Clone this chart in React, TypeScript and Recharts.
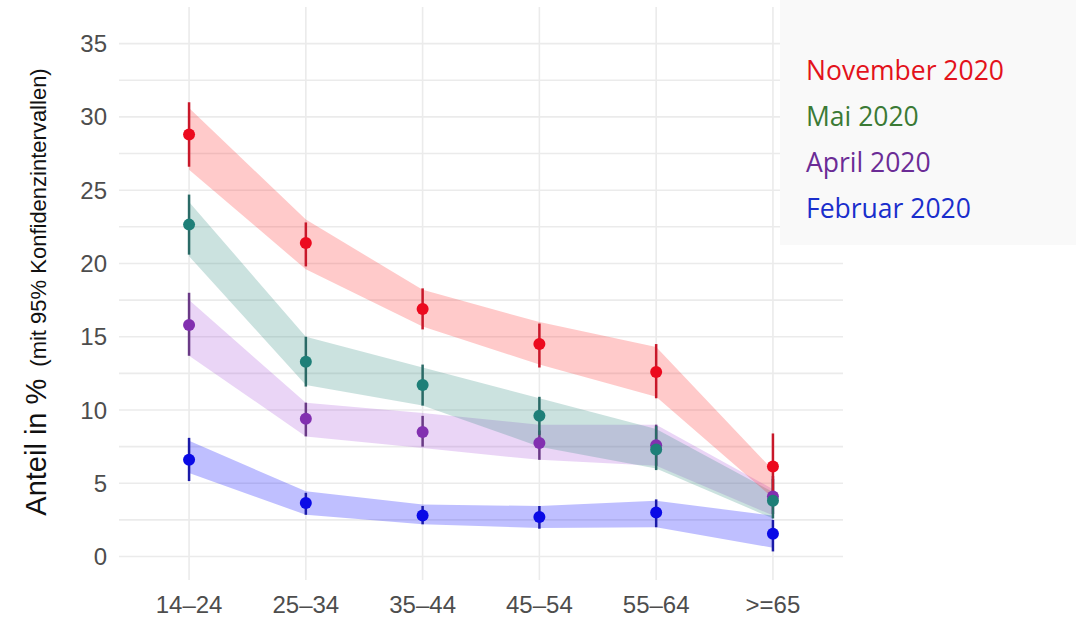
import React from "react";
import {
  ComposedChart,
  Area,
  Line,
  ErrorBar,
  XAxis,
  YAxis,
  CartesianGrid,
} from "recharts";

// age groups on the x axis
const AGE_GROUPS = ["14–24", "25–34", "35–44", "45–54", "55–64", ">=65"];
const X_POS = [1, 2, 3, 4, 5, 6];
const Y_TICKS = [0, 5, 10, 15, 20, 25, 30, 35];
const GRID_VALUES = [0, 2.5, 5, 7.5, 10, 12.5, 15, 17.5, 20, 22.5, 25, 27.5, 30, 32.5, 35];
const X_DOMAIN = [0.4, 6.6];

// November 2020
const NOV = [28.8, 21.4, 16.9, 14.5, 12.6, 6.15];
const NOV_LO = [26.6, 19.8, 15.5, 12.9, 10.8, 3.9];
const NOV_HI = [31.0, 22.8, 18.3, 15.9, 14.5, 8.4];
const NOV_BAND_LO = [26.4, 19.6, 15.7, 13.1, 10.9, 4.0];
const NOV_BAND_HI = [30.6, 23.0, 18.2, 16.0, 14.3, 5.9];

// Mai 2020
const MAI = [22.65, 13.3, 11.7, 9.6, 7.3, 3.8];
const MAI_LO = [20.6, 11.6, 10.3, 8.3, 5.9, 2.6];
const MAI_HI = [24.7, 15.0, 13.1, 10.9, 8.9, 5.3];
const MAI_BAND_LO = [20.5, 11.7, 10.3, 7.5, 6.0, 2.6];
const MAI_BAND_HI = [24.2, 15.0, 12.9, 10.8, 8.7, 4.4];

// April 2020
const APR = [15.8, 9.4, 8.5, 7.75, 7.6, 4.1];
const APR_LO = [13.7, 8.2, 7.5, 6.6, 6.2, 2.9];
const APR_HI = [18.0, 10.5, 9.6, 8.6, 9.0, 5.5];
const APR_BAND_LO = [13.7, 8.2, 7.4, 6.6, 6.2, 2.8];
const APR_BAND_HI = [17.5, 10.5, 9.8, 9.0, 9.0, 4.6];

// Februar 2020
const FEB = [6.6, 3.65, 2.8, 2.7, 3.0, 1.55];
const FEB_LO = [5.15, 2.85, 2.2, 1.9, 2.0, 0.35];
const FEB_HI = [8.1, 4.35, 3.45, 3.45, 3.9, 2.5];
const FEB_BAND_LO = [5.7, 2.85, 2.2, 1.95, 2.0, 0.6];
const FEB_BAND_HI = [7.9, 4.45, 3.55, 3.45, 3.8, 2.8];

const SERIES = [
  { key: "feb", label: "Februar 2020", val: FEB, lo: FEB_LO, hi: FEB_HI, bandLo: FEB_BAND_LO, bandHi: FEB_BAND_HI, color: "#0a0ae6", bar: "#1a1aa8", band: "#0000ff", bandOpacity: 0.25, text: "#1a2ecc" },
  { key: "apr", label: "April 2020", val: APR, lo: APR_LO, hi: APR_HI, bandLo: APR_BAND_LO, bandHi: APR_BAND_HI, color: "#8230b0", bar: "#6a3a86", band: "#a040d8", bandOpacity: 0.22, text: "#6b2c96" },
  { key: "mai", label: "Mai 2020", val: MAI, lo: MAI_LO, hi: MAI_HI, bandLo: MAI_BAND_LO, bandHi: MAI_BAND_HI, color: "#1e7f78", bar: "#2a6a66", band: "#2e8b80", bandOpacity: 0.25, text: "#3b7a35" },
  { key: "nov", label: "November 2020", val: NOV, lo: NOV_LO, hi: NOV_HI, bandLo: NOV_BAND_LO, bandHi: NOV_BAND_HI, color: "#ec0a1e", bar: "#c8182a", band: "#ff2020", bandOpacity: 0.24, text: "#e3121b" },
];

const data = AGE_GROUPS.map((cat, i) => {
  const row: Record<string, any> = { x: X_POS[i], cat };
  SERIES.forEach((s) => {
    row[s.key] = s.val[i];
    row[s.key + "Err"] = [s.val[i] - s.lo[i], s.hi[i] - s.val[i]];
    row[s.key + "Band"] = [s.bandLo[i], s.bandHi[i]];
  });
  return row;
});

const FONT = "'Liberation Sans', Arial, Helvetica, sans-serif";

function YTitle() {
  return (
    <text
      x={46}
      y={292}
      transform="rotate(-90, 46, 292)"
      textAnchor="middle"
      fontFamily={FONT}
      fill="#111"
    >
      <tspan fontSize={29}>Anteil in %</tspan>
      <tspan fontSize={22} dx={12}>(mit 95% Konfidenzintervallen)</tspan>
    </text>
  );
}

// vertical grid only at the age groups, not at the plot edges
function verticalLines(props: any) {
  const scale = props?.xAxis?.scale;
  if (scale && typeof scale === "function") {
    return X_POS.map((v) => scale(v));
  }
  const off = props.offset;
  const [d0, d1] = X_DOMAIN;
  return X_POS.map((v) => off.left + ((v - d0) / (d1 - d0)) * off.width);
}

export default function App() {
  const legendOrder = [...SERIES].reverse();
  return (
    <div style={{ position: "relative", width: 1079, height: 619, background: "#fff" }}>
      <style>{`body{margin:0}`}</style>
      <ComposedChart
        width={1079}
        height={619}
        data={data}
        margin={{ top: 7, right: 236, bottom: 0, left: 0 }}
      >
        <CartesianGrid
          stroke="#ebebeb"
          strokeWidth={1.6}
          horizontalValues={GRID_VALUES}
          verticalCoordinatesGenerator={verticalLines}
        />
        <XAxis
          type="number"
          dataKey="x"
          domain={X_DOMAIN}
          ticks={X_POS}
          tickFormatter={(v: number) => AGE_GROUPS[v - 1]}
          axisLine={false}
          tickLine={false}
          tickSize={0}
          tickMargin={16}
          height={39}
          allowDataOverflow
          tick={{ fontSize: 24, fill: "#4d4d4d", fontFamily: FONT }}
        />
        <YAxis
          type="number"
          domain={[-1.6, 37.5]}
          ticks={Y_TICKS}
          axisLine={false}
          tickLine={false}
          tickSize={0}
          tickMargin={12}
          width={119}
          allowDataOverflow
          tick={{ fontSize: 24, fill: "#4d4d4d", fontFamily: FONT }}
          label={{ content: () => <YTitle /> }}
        />
        {SERIES.map((s) => (
          <Area
            key={s.key + "Band"}
            type="linear"
            dataKey={s.key + "Band"}
            stroke="none"
            fill={s.band}
            fillOpacity={s.bandOpacity}
            dot={false}
            activeDot={false}
            isAnimationActive={false}
          />
        ))}
        {SERIES.map((s) => (
          <Line
            key={s.key}
            type="linear"
            dataKey={s.key}
            stroke="none"
            dot={{ r: 6, fill: s.color, stroke: s.color, strokeWidth: 0 }}
            activeDot={false}
            isAnimationActive={false}
          >
            <ErrorBar
              dataKey={s.key + "Err"}
              direction="y"
              width={0}
              stroke={s.bar}
              strokeWidth={2.5}
            />
          </Line>
        ))}
      </ComposedChart>
      <div
        style={{
          position: "absolute",
          left: 780,
          top: 0,
          width: 296,
          height: 245,
          background: "#f9f9f9",
          fontFamily: "'Open Sans', sans-serif",
          fontSize: 26.5,
        }}
      >
        {legendOrder.map((s, i) => (
          <div
            key={s.key}
            style={{
              position: "absolute",
              left: 26,
              top: 80 + i * 46 - 28,
              color: s.text,
              whiteSpace: "nowrap",
              lineHeight: "36px",
            }}
          >
            {s.label}
          </div>
        ))}
      </div>
    </div>
  );
}
